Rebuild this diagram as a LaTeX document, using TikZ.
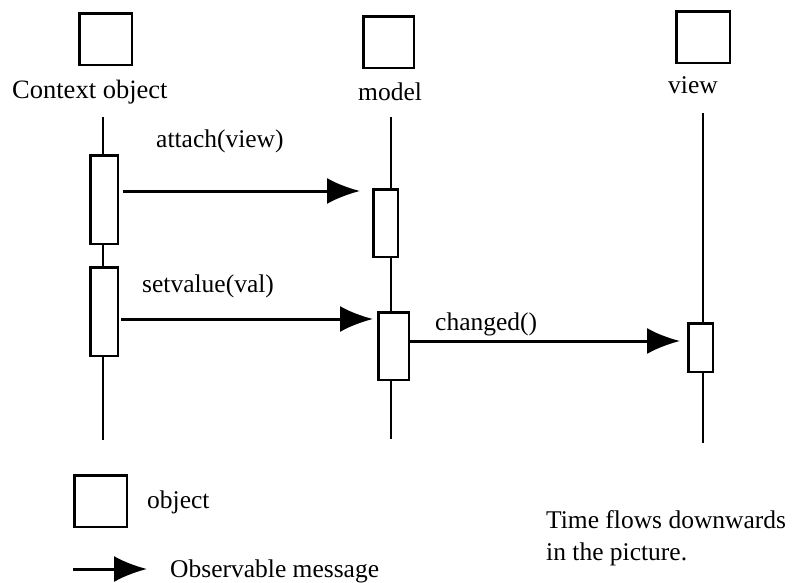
\documentclass[tikz,border=0pt]{standalone}
\usepackage{fontspec}
\setmainfont{Liberation Serif}
\usetikzlibrary{arrows.meta}
\begin{document}
\begin{tikzpicture}[x=1pt,y=-1pt,
  objbox/.style={draw, line width=2.5pt, fill=white, inner sep=0pt},
  actbox/.style={draw, line width=2.5pt, fill=white, inner sep=0pt},
  lifeline/.style={line width=2pt},
  msg/.style={line width=3pt, -{Latex[length=33pt,width=26pt]}},
  lbl/.style={anchor=base west, inner sep=0pt, font=\fontsize{25.5}{30}\selectfont}]
\useasboundingbox (0,0) rectangle (792,582);

% object boxes at the heads of the lifelines
\node[objbox, minimum width=52.5pt, minimum height=51.5pt] (ctxobj) at (105.5,39) {};
\node[objbox, minimum width=50.5pt, minimum height=51.5pt] (modobj) at (388.5,42) {};
\node[objbox, minimum width=53.5pt, minimum height=51.5pt] (viewobj) at (703,37) {};

% object names
\node[lbl, font=\fontsize{26.5}{30}\selectfont] (ctxname) at (12,98) {Context object};
\node[lbl] (modname) at (358,100) {model};
\node[lbl] (viewname) at (668,93) {view};

% lifelines
\coordinate (ctxtop) at (102.5,117);
\coordinate (ctxbot) at (102.5,440);
\coordinate (modtop) at (391,117);
\coordinate (modbot) at (391,439);
\coordinate (viewtop) at (703,113);
\coordinate (viewbot) at (703,443);
\draw[lifeline] (ctxtop) -- (ctxbot);
\draw[lifeline] (modtop) -- (modbot);
\draw[lifeline] (viewtop) -- (viewbot);

% activation bars
\node[actbox, minimum width=27.5pt, minimum height=88.5pt] (ctxact1) at (104,199.5) {};
\node[actbox, minimum width=27.5pt, minimum height=88.5pt] (ctxact2) at (104,311.5) {};
\node[actbox, minimum width=24.5pt, minimum height=67.5pt] (modact1) at (385.5,223) {};
\node[actbox, minimum width=30.5pt, minimum height=67.5pt] (modact2) at (393.5,346) {};
\node[actbox, minimum width=24.5pt, minimum height=48.5pt] (viewact) at (700.5,347.5) {};

% messages
\coordinate (m1) at (0,191);
\coordinate (m2) at (0,319);
\coordinate (m3) at (0,341);
\draw[msg, shorten <=4pt, shorten >=12pt] (ctxact1.east |- m1) -- (modact1.west |- m1);
\draw[msg, shorten <=2pt, shorten >=4pt] (ctxact2.east |- m2) -- (modact2.west |- m2);
\draw[msg, shorten >=7pt] (modact2.east |- m3) -- (viewact.west |- m3);

\node[lbl] (attachlbl) at (156,147) {attach(view)};
\node[lbl] (setlbl) at (142,292) {setvalue(val)};
\node[lbl] (changedlbl) at (435,330) {changed()};

% legend
\node[objbox, minimum width=52.5pt, minimum height=51.5pt] (legobj) at (100.5,501) {};
\node[lbl] (legobjlbl) at (147,508) {object};
\coordinate (legfrom) at (73,569);
\coordinate (legto) at (147,569);
\draw[msg] (legfrom) -- (legto);
\node[lbl] (legmsglbl) at (170,577) {Observable message};

% note
\node[lbl] (note1) at (546,528) {Time flows downwards};
\node[lbl] (note2) at (546,560) {in the picture.};
\end{tikzpicture}
\end{document}
